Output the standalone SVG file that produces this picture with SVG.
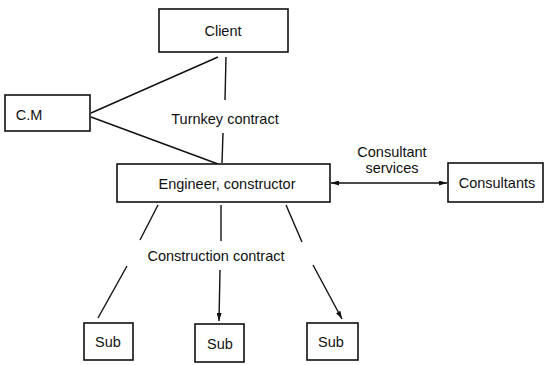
<svg xmlns="http://www.w3.org/2000/svg" width="545" height="365" viewBox="0 0 545 365">
<style>
.box{fill:#fff;stroke:#111;stroke-width:1.6}
.t{font-family:"Liberation Sans",Arial,sans-serif;font-size:14.5px;fill:#111;text-anchor:middle;dominant-baseline:central}
.ln{stroke:#111;stroke-width:1.4;fill:none}
</style>
<defs>
<marker id="ah" viewBox="0 0 8 5" refX="8" refY="2.5" markerWidth="8" markerHeight="5" markerUnits="userSpaceOnUse" orient="auto-start-reverse">
<path d="M0,0 L8,2.5 L0,5 z" fill="#111"/>
</marker>
</defs>
<rect width="545" height="365" fill="#fff"/>
<g id="connectors">
<line class="ln" x1="226" y1="57" x2="225" y2="100"/>
<line class="ln" x1="223" y1="133" x2="222" y2="163"/>
<line class="ln" x1="91" y1="113" x2="218" y2="57"/>
<line class="ln" x1="91" y1="117" x2="218" y2="164"/>
<line class="ln" x1="331" y1="183" x2="447" y2="183" marker-start="url(#ah)" marker-end="url(#ah)"/>
<line class="ln" x1="158" y1="205" x2="140" y2="240"/>
<line class="ln" x1="127" y1="266" x2="98" y2="318"/>
<line class="ln" x1="221" y1="205" x2="221" y2="241"/>
<line class="ln" x1="220" y1="270" x2="219" y2="321" marker-end="url(#ah)"/>
<line class="ln" x1="286" y1="205" x2="302" y2="242"/>
<line class="ln" x1="313" y1="265" x2="342" y2="319" marker-end="url(#ah)"/>
<text class="t" x="225" y="119">Turnkey contract</text>
<text class="t" x="392" y="152">Consultant</text>
<text class="t" x="392" y="168">services</text>
<text class="t" x="216" y="256">Construction contract</text>
</g>
<g id="client"><rect class="box" x="159" y="9" width="129" height="43"/><text class="t" x="223" y="31">Client</text></g>
<g id="cm"><rect class="box" x="5" y="95" width="85" height="36"/><text class="t" x="29" y="115">C.M</text></g>
<g id="engineer"><rect class="box" x="117" y="164" width="213" height="38"/><text class="t" x="227" y="184">Engineer, constructor</text></g>
<g id="consultants"><rect class="box" x="448" y="163" width="95" height="39"/><text class="t" x="497" y="183">Consultants</text></g>
<g id="sub1"><rect class="box" x="84" y="323" width="49" height="37"/><text class="t" x="108" y="342">Sub</text></g>
<g id="sub2"><rect class="box" x="195" y="324" width="49" height="38"/><text class="t" x="220" y="344">Sub</text></g>
<g id="sub3"><rect class="box" x="307" y="323" width="51" height="37"/><text class="t" x="331" y="342">Sub</text></g>
</svg>
